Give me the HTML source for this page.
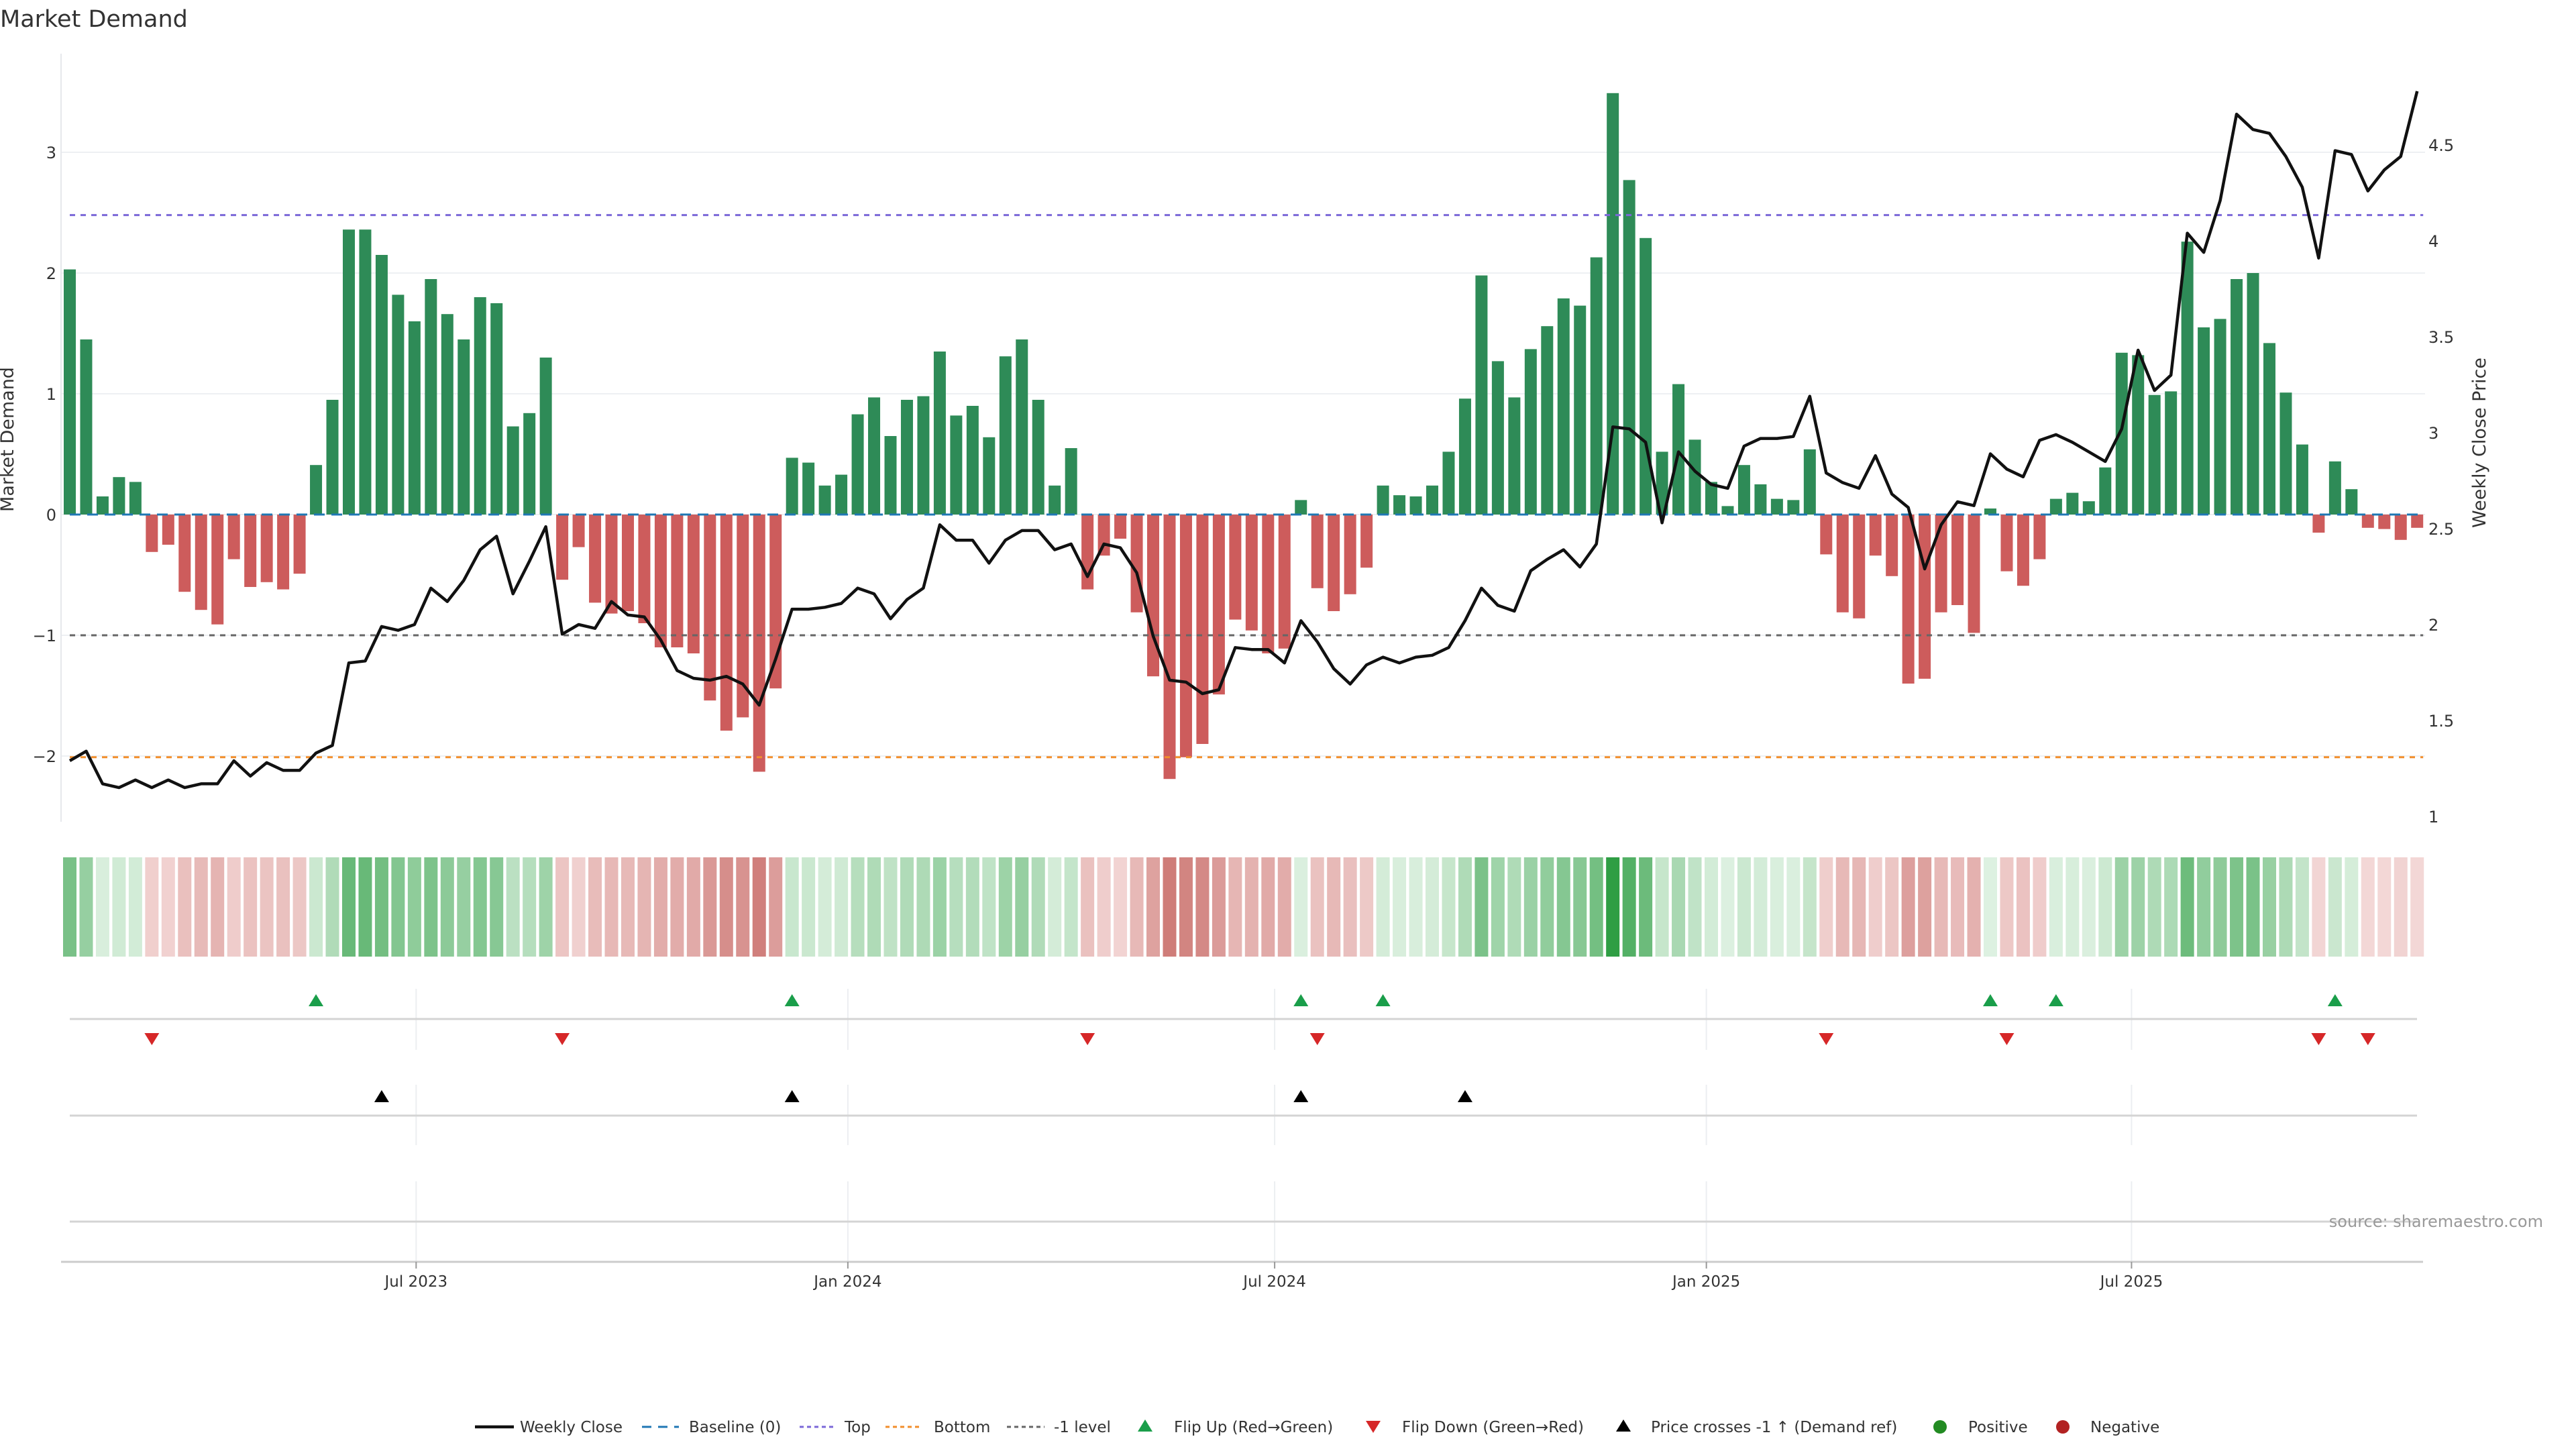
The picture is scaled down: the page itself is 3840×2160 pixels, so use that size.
<!DOCTYPE html>
<html><head><meta charset="utf-8"><style>
html,body{margin:0;padding:0;background:#fff;}
svg{display:block;font-family:"DejaVu Sans","Liberation Sans",sans-serif;}
</style></head><body>
<svg id="chart" xmlns="http://www.w3.org/2000/svg" width="3840" height="2160" viewBox="0 0 3840 2160">
<rect x="0" y="0" width="3840" height="2160" fill="#fff"/>
<text x="0" y="40" font-size="35" fill="#333">Market Demand</text>
<g id="grid"></g><g id="heat"></g><g id="bars"></g><g id="refs"></g><g id="line"></g><g id="axes"></g><g id="markers"></g>
<text x="20" y="655" font-size="27" fill="#333" text-anchor="middle" transform="rotate(-90 20 655)">Market Demand</text>
<text x="3705" y="660" font-size="27" fill="#333" text-anchor="middle" transform="rotate(-90 3705 660)">Weekly Close Price</text>
<text x="3791" y="1829" font-size="24" fill="#999" text-anchor="end">source: sharemaestro.com</text>
<g id="legend"></g>
</svg>
<script>
const demand=[2.03,1.45,0.15,0.31,0.27,-0.31,-0.25,-0.64,-0.79,-0.91,-0.37,-0.60,-0.56,-0.62,-0.49,
0.41,0.95,2.36,2.36,2.15,1.82,1.60,1.95,1.66,1.45,1.80,1.75,0.73,0.84,1.30,
-0.54,-0.27,-0.73,-0.82,-0.80,-0.90,-1.10,-1.10,-1.15,-1.54,-1.79,-1.68,-2.13,-1.44,
0.47,0.43,0.24,0.33,0.83,0.97,0.65,0.95,0.98,1.35,0.82,0.90,0.64,1.31,1.45,0.95,0.24,0.55,
-0.62,-0.34,-0.20,-0.81,-1.34,-2.19,-2.01,-1.90,-1.49,-0.87,-0.96,-1.15,-1.11,
0.12,-0.61,-0.80,-0.66,-0.44,
0.24,0.16,0.15,0.24,0.52,0.96,1.98,1.27,0.97,1.37,1.56,1.79,1.73,2.13,3.49,2.77,2.29,0.52,1.08,0.62,0.27,0.07,0.41,0.25,0.13,0.12,0.54,
-0.33,-0.81,-0.86,-0.34,-0.51,-1.40,-1.36,-0.81,-0.75,-0.98,
0.05,-0.47,-0.59,-0.37,
0.13,0.18,0.11,0.39,1.34,1.32,0.99,1.02,2.26,1.55,1.62,1.95,2.00,1.42,1.01,0.58,
-0.15,0.44,0.21,-0.11,-0.12,-0.21,-0.11];
const closePrice=[1.29,1.34,1.17,1.15,1.19,1.15,1.19,1.15,1.17,1.17,1.29,1.21,1.28,1.24,1.24,
1.33,1.37,1.80,1.81,1.99,1.97,2.00,2.19,2.12,2.23,2.39,2.46,2.16,2.33,2.51,
1.95,2.00,1.98,2.12,2.05,2.04,1.92,1.76,1.72,1.71,1.73,1.69,1.58,1.82,
2.08,2.08,2.09,2.11,2.19,2.16,2.03,2.13,2.19,2.52,2.44,2.44,2.32,2.44,2.49,2.49,2.39,2.42,
2.25,2.42,2.40,2.27,1.94,1.71,1.70,1.64,1.66,1.88,1.87,1.87,1.80,
2.02,1.91,1.77,1.69,1.79,
1.83,1.80,1.83,1.84,1.88,2.02,2.19,2.10,2.07,2.28,2.34,2.39,2.30,2.42,3.03,3.02,2.95,2.53,2.90,2.80,2.73,2.71,2.93,2.97,2.97,2.98,3.19,
2.79,2.74,2.71,2.88,2.68,2.61,2.29,2.52,2.64,2.62,
2.89,2.81,2.77,2.96,
2.99,2.95,2.90,2.85,3.02,3.43,3.22,3.30,4.04,3.94,4.21,4.66,4.58,4.56,4.44,4.28,
3.91,4.47,4.45,4.26,4.37,4.44,4.78];
const flipUp=[15,44,75,80,117,121,138];
const flipDown=[5,30,62,76,107,118,137,140];
const priceCross=[19,44,75,85];
const leftTicks=[3,2,1,0,-1,-2];
const rightTicks=[1,1.5,2,2.5,3,3.5,4,4.5];
const dateTicks=["Jul 2023","Jan 2024","Jul 2024","Jan 2025","Jul 2025"];
const dateTickWeeks=[21.1,47.4,73.4,99.7,125.6];
const refTop=2.48, refMinus1=-1, refBottom=-2.01;

const NS="http://www.w3.org/2000/svg";
const X0=104, STEP=24.47, PL=91, PR=3615;
const x=i=>X0+STEP*i;
const yL=v=>767-180*v;
const yR=p=>788-286*(p-2.5);
function mk(tag,attrs,parent,txt){const e=document.createElementNS(NS,tag);for(const k in attrs)e.setAttribute(k,attrs[k]);if(txt!==undefined)e.textContent=txt;document.getElementById(parent).appendChild(e);return e;}

leftTicks.forEach(v=>{
  const g=mk('line',{x1:PL,x2:PR,y1:yL(v),y2:yL(v),stroke:'#eef0f3','stroke-width':2},'grid');
  
  
  const t=mk('text',{x:84,y:yL(v)+9,'font-size':24,fill:'#333','text-anchor':'end'},'axes',v<0?'\u2212'+Math.abs(v):String(v));
  
  
});
rightTicks.forEach(p=>{
  const t=mk('text',{x:3620,y:yR(p)+9,'font-size':24,fill:'#333'},'axes',String(p));
  
  
});
{const a=mk('line',{x1:PL,x2:PL,y1:80,y2:1225,stroke:'#e6e8ec','stroke-width':2},'axes');

}

function heatColor(v){const t=Math.min(Math.abs(v)/3.5,1);
  const a=v>=0?[224,242,227]:[245,220,219], b=v>=0?[46,158,68]:[184,68,63];
  return 'rgb('+a.map((c,k)=>Math.round(c+(b[k]-c)*t)).join(',')+')';}
demand.forEach((v,i)=>{
  const r=mk('rect',{x:x(i)-10,y:1278,width:20,height:148,fill:heatColor(v)},'heat');
  
  
});

demand.forEach((v,i)=>{
  const y0=yL(0), y1=yL(v);
  const r=mk('rect',{x:x(i)-9,y:Math.min(y0,y1),width:18,height:Math.abs(y1-y0),fill:v>=0?'#2e8b57':'#cd5c5c'},'bars');
  
  
});

[[0,'#1f77b4','16 10','baseline-line'],[refTop,'#7b68d8','8 8','top-line'],[refMinus1,'#666','8 8','minus1-line'],[refBottom,'#f28e2b','8 8','bottom-line']].forEach(r=>{
  const l=mk('line',{x1:X0,x2:x(demand.length-1)+9,y1:yL(r[0]),y2:yL(r[0]),stroke:r[1],'stroke-width':3,'stroke-dasharray':r[2]},'refs');
  
  
});

{const pts=closePrice.map((p,i)=>x(i).toFixed(1)+','+yR(p).toFixed(1)).join(' ');
const pl=mk('polyline',{points:pts,fill:'none',stroke:'#111','stroke-width':4.5,'stroke-linejoin':'round'},'line');

}

[[1519,1474,1565],[1663,1617,1707],[1821,1761,1881]].forEach(p=>{
  const l=mk('line',{x1:X0,x2:3603,y1:p[0],y2:p[0],stroke:'#d4d4d4','stroke-width':3},'axes');
  
  
  dateTickWeeks.forEach(w=>{
    const g=mk('line',{x1:x(w),x2:x(w),y1:p[1],y2:p[2],stroke:'#eceef1','stroke-width':2},'grid');
    
    
  });
});
function tri(cx,cy,up,color,name){
  const pts=up?[[cx-11,cy+9],[cx+11,cy+9],[cx,cy-9]]:[[cx-11,cy-9],[cx+11,cy-9],[cx,cy+9]];
  const t=mk('polygon',{points:pts.map(q=>q.join(',')).join(' '),fill:color},'markers');
  
  
}
flipUp.forEach(i=>tri(x(i),1491,true,'#1a9e4a','flip-up-marker'));
flipDown.forEach(i=>tri(x(i),1549,false,'#d62728','flip-down-marker'));
priceCross.forEach(i=>tri(x(i),1634,true,'#000','price-cross-marker'));

{const a=mk('line',{x1:PL,x2:3612,y1:1881,y2:1881,stroke:'#cccccc','stroke-width':3},'axes');

}
dateTicks.forEach((d,k)=>{
  const xx=x(dateTickWeeks[k]);
  const tk=mk('line',{x1:xx,x2:xx,y1:1881,y2:1891,stroke:'#999','stroke-width':2},'axes');
  
  
  const t=mk('text',{x:xx,y:1918,'font-size':23,fill:'#333','text-anchor':'middle'},'axes',d);
  
  
});

const LY=2127;
function ltext(xx,s){const t=mk('text',{x:xx,y:LY+8,'font-size':23,fill:'#333'},'legend',s);
  
  }
function lline(x1,x2,color,dash,w){const l=mk('line',{x1:x1,x2:x2,y1:LY,y2:LY,stroke:color,'stroke-width':w,'stroke-dasharray':dash},'legend');
  
  }
lline(708,766,'#111','none',4.5); ltext(775,'Weekly Close');
lline(957,1012,'#1f77b4','14 10',3); ltext(1027,'Baseline (0)');
lline(1192,1242,'#7b68d8','6 5',3); ltext(1259,'Top');
lline(1320,1375,'#f28e2b','6 5',3); ltext(1392,'Bottom');
lline(1501,1557,'#666','6 5',3); ltext(1571,'-1 level');
tri(1707,LY-2,true,'#1a9e4a','legend-flip-up'); ltext(1750,'Flip Up (Red\u2192Green)');
tri(2047,LY,false,'#d62728','legend-flip-down'); ltext(2090,'Flip Down (Green\u2192Red)');
tri(2420,LY-2,true,'#000','legend-price-cross'); ltext(2461,'Price crosses -1 \u2191 (Demand ref)');
{const c=mk('circle',{cx:2892,cy:LY,r:10,fill:'#228b22'},'legend');

}
ltext(2934,'Positive');
{const c=mk('circle',{cx:3075,cy:LY,r:10,fill:'#b22222'},'legend');

}
ltext(3116,'Negative');
</script>
</body></html>
